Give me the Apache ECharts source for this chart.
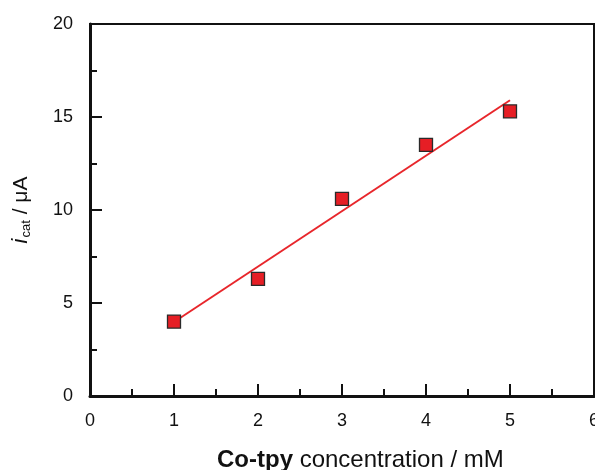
<!DOCTYPE html>
<html>
<head>
<meta charset="utf-8">
<script src="https://cdn.jsdelivr.net/npm/echarts@6/dist/echarts.min.js"></script>
<style>html,body{margin:0;padding:0;background:#fff;}#c{width:595px;height:470px;}</style>
</head>
<body>
<div id="c"></div>
<script>
var concentration = [1, 2, 3, 4, 5];
var icat = [4.0, 6.3, 10.6, 13.5, 15.3];
var fitX = [1, 5];
var fitY = [3.98, 15.9];
var xTicks = [0, 1, 2, 3, 4, 5, 6];
var yTicks = [0, 5, 10, 15, 20];

var pts = concentration.map(function (x, i) { return [x, icat[i]]; });
var fit = fitX.map(function (x, i) { return [x, fitY[i]]; });
var FONT = 'Liberation Sans, Arial, sans-serif';

var chart = echarts.init(document.getElementById('c'), null, {renderer: 'canvas'});
chart.setOption({
  animation: false,
  backgroundColor: '#fff',
  grid: {left: 90, top: 24, right: 1, bottom: 74, show: true, borderColor: '#111', borderWidth: 2,
         containLabel: false, outerBoundsMode: 'none'},
  xAxis: {
    type: 'value', min: xTicks[0], max: xTicks[xTicks.length - 1], interval: 1,
    axisLine: {show: true, onZero: false, lineStyle: {color: '#111', width: 3}},
    axisTick: {show: true, inside: true, length: 12, lineStyle: {color: '#111', width: 2}},
    minorTick: {show: true, splitNumber: 2, length: 7, lineStyle: {color: '#111', width: 2}},
    splitLine: {show: false},
    axisLabel: {margin: 16, fontSize: 18, color: '#111', fontFamily: FONT}
  },
  yAxis: {
    type: 'value', min: yTicks[0], max: yTicks[yTicks.length - 1], interval: 5,
    axisLine: {show: true, onZero: false, lineStyle: {color: '#111', width: 3}},
    axisTick: {show: true, inside: true, length: 12, lineStyle: {color: '#111', width: 2}},
    minorTick: {show: true, splitNumber: 2, length: 7, lineStyle: {color: '#111', width: 2}},
    splitLine: {show: false},
    axisLabel: {margin: 17, fontSize: 18, color: '#111', fontFamily: FONT},
    name: '{i|i}{sub|cat}{n| / μA}',
    nameLocation: 'middle', nameRotate: 90, nameGap: 57,
    nameTextStyle: {
      color: '#111', fontFamily: FONT, fontSize: 21,
      rich: {
        i: {fontSize: 22, fontStyle: 'italic', fontFamily: FONT, color: '#111'},
        sub: {fontSize: 13, fontFamily: FONT, color: '#111', padding: [11, 0, 0, 1]},
        n: {fontSize: 21, fontFamily: FONT, color: '#111'}
      }
    }
  },
  graphic: [{
    type: 'text', left: 217, top: 448,
    style: {
      text: '{b|Co-tpy}{n| concentration / mM}',
      rich: {
        b: {fontSize: 24, fontWeight: 'bold', fontFamily: FONT, fill: '#111'},
        n: {fontSize: 24, fontFamily: FONT, fill: '#111'}
      }
    }
  }],
  series: [
    {type: 'line', data: fit, showSymbol: false, symbol: 'none', z: 2,
     lineStyle: {color: '#e8262b', width: 2}},
    {type: 'scatter', data: pts, symbol: 'rect', symbolSize: 13, z: 3,
     itemStyle: {color: '#e61e25', borderColor: '#2a2a2a', borderWidth: 1.3, opacity: 1}}
  ]
});
</script>
</body>
</html>
